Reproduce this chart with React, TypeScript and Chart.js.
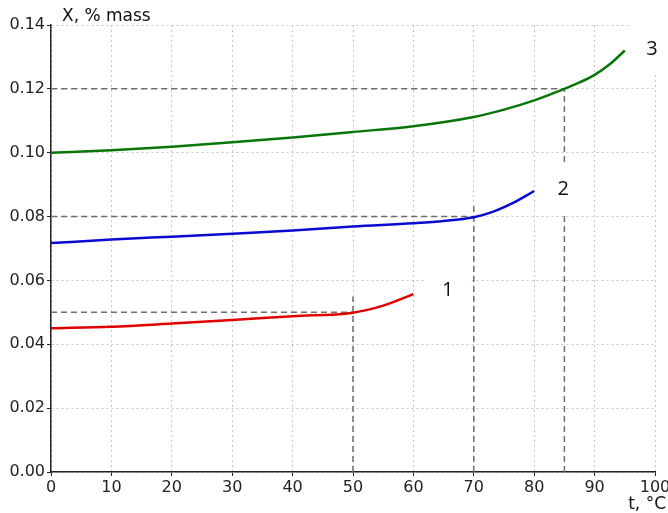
import React, { useEffect, useRef } from "react";
import { Chart, registerables } from "chart.js";

Chart.register(...registerables);

// Curve 1 (red)
const t1 = [0, 10, 20, 30, 40, 50, 55, 60];
const x1 = [0.045, 0.0455, 0.0465, 0.0476, 0.0488, 0.0499, 0.0521, 0.0557];
// Curve 2 (blue)
const t2 = [0, 10, 20, 30, 40, 50, 60, 65, 70, 73, 76.5, 80];
const x2 = [0.0717, 0.0728, 0.0737, 0.0746, 0.0756, 0.0769, 0.0779, 0.0786, 0.0798, 0.0814, 0.0843, 0.088];
// Curve 3 (green)
const t3 = [0, 10, 20, 30, 40, 50, 60, 70, 75, 80, 85, 87.5, 90, 92.5, 95];
const x3 = [0.1, 0.1008, 0.1019, 0.1033, 0.1048, 0.1065, 0.1083, 0.1112, 0.1135, 0.1164, 0.12, 0.122, 0.1244, 0.1277, 0.132];

// Reference (dashed) lines: [t, X] pairs
const ref1H = [[0, 0.05], [50, 0.05]];
const ref1V = [[50, 0], [50, 0.055]];
const ref2H = [[0, 0.08], [70, 0.08]];
const ref2V = [[70, 0], [70, 0.084]];
const ref3H = [[0, 0.12], [85, 0.12]];
const ref3V = [[85, 0], [85, 0.12]];

// Curve labels: [text, t, X]
const curveLabels: [string, number, number][] = [
  ["1", 65.7, 0.057],
  ["2", 84.8, 0.0885],
  ["3", 99.5, 0.1325],
];

const yTitle = "X, % mass";
const xTitle = "t, °C";

const toPts = (xs: number[], ys: number[]) => xs.map((x, i) => ({ x, y: ys[i] }));
const pairPts = (p: number[][]) => p.map(([x, y]) => ({ x, y }));

export default function App() {
  const ref = useRef<HTMLCanvasElement | null>(null);
  useEffect(() => {
    if (!ref.current) return;
    const curve = (data: any, color: string) => ({
      data,
      borderColor: color,
      borderWidth: 2.5,
      pointRadius: 0,
      fill: false,
      cubicInterpolationMode: "monotone" as const,
      order: 1,
    });
    const dashed = (data: any) => ({
      data,
      borderColor: "#6e6e6e",
      borderWidth: 1.5,
      borderDash: [6, 4],
      pointRadius: 0,
      fill: false,
      tension: 0,
      order: 2,
    });
    const labelsPlugin = {
      id: "labelsPlugin",
      afterDatasetsDraw(chart: any) {
        const ctx = chart.ctx;
        const xs = chart.scales.x;
        const ys = chart.scales.y;
        ctx.save();
        for (const [txt, tx, ty] of curveLabels) {
          const px = xs.getPixelForValue(tx);
          const py = ys.getPixelForValue(ty);
          ctx.fillStyle = "#ffffff";
          ctx.fillRect(px - 23, py - 24, 46, 48);
          ctx.fillStyle = "#111";
          ctx.font = "20px 'Open Sans'";
          ctx.textAlign = "center";
          ctx.textBaseline = "middle";
          ctx.fillText(txt, px, py);
        }
        ctx.restore();
      },
      afterDraw(chart: any) {
        const ctx = chart.ctx;
        ctx.save();
        ctx.fillStyle = "#111";
        ctx.font = "17px 'DejaVu Sans'";
        ctx.textAlign = "left";
        ctx.textBaseline = "alphabetic";
        ctx.fillText(yTitle, 62, 21);
        ctx.textAlign = "right";
        ctx.fillText(xTitle, 666, 509);
        ctx.restore();
      },
    };
    const chart = new Chart(ref.current, {
      type: "line",
      data: {
        datasets: [
          dashed(pairPts(ref1H)),
          dashed(pairPts(ref1V)),
          dashed(pairPts(ref2H)),
          dashed(pairPts(ref2V)),
          dashed(pairPts(ref3H)),
          dashed(pairPts(ref3V)),
          curve(toPts(t1, x1), "#e00000"),
          curve(toPts(t2, x2), "#0a0ad2"),
          curve(toPts(t3, x3), "#087508"),
        ] as any,
      },
      options: {
        animation: false,
        responsive: false,
        maintainAspectRatio: false,
        layout: { padding: { top: 25, right: 13, left: 0, bottom: 0 } },
        plugins: { legend: { display: false }, tooltip: { enabled: false } },
        scales: {
          x: {
            type: "linear",
            min: 0,
            max: 100,
            ticks: {
              stepSize: 10,
              color: "#222",
              font: { family: "DejaVu Sans", size: 16 },
              padding: 2,
              maxRotation: 0,
            },
            grid: {
              color: "#c6c6c6",
              lineWidth: 1,
              tickLength: 4,
              tickColor: "#222",
              tickBorderDash: [],
            } as any,
            border: { display: true, color: "#222", width: 1.5, dash: [2, 3] } as any,
            afterFit(scale: any) {
              scale.height = 41;
              scale.paddingLeft = 0;
              scale.paddingRight = 0;
            },
          },
          y: {
            type: "linear",
            min: 0,
            max: 0.14,
            ticks: {
              stepSize: 0.02,
              color: "#222",
              font: { family: "DejaVu Sans", size: 16 },
              padding: 2,
              callback: (v: any) => Number(v).toFixed(2),
            },
            grid: {
              color: "#c6c6c6",
              lineWidth: 1,
              tickLength: 4,
              tickColor: "#222",
            } as any,
            border: { display: true, color: "#222", width: 1.5, dash: [2, 3] } as any,
            afterFit(scale: any) {
              scale.width = 51;
              scale.paddingTop = 0;
              scale.paddingBottom = 0;
            },
          },
        },
      },
      plugins: [labelsPlugin],
    });
    return () => chart.destroy();
  }, []);
  return (
    <div style={{ position: "fixed", left: 0, top: 0, width: 668, height: 513, background: "#fff" }}>
      <canvas ref={ref} width={668} height={513} style={{ width: 668, height: 513 }} />
    </div>
  );
}
